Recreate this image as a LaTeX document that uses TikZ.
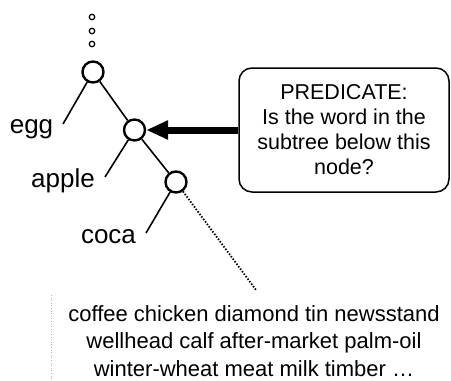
\documentclass[tikz,border=0pt]{standalone}
\usepackage{fontspec}
\setmainfont{Liberation Sans}
\usetikzlibrary{positioning,arrows.meta}

\begin{document}
\begin{tikzpicture}[
		x=1pt,
		y=-1pt,
		vertex/.style={
			draw,
			circle,
			line width=2.4pt,
			minimum size=21pt,
			inner sep=0pt
		},
		dotvertex/.style={
			draw,
			circle,
			line width=1.2pt,
			minimum size=5.5pt,
			inner sep=0pt
		},
		branch/.style={
			line width=1.6pt
		},
		trail/.style={
			line width=1.8pt,
			dash pattern=on 1.5pt off 1.6pt
		},
		leaf/.style={
			anchor=base,
			inner sep=0pt,
			font=\fontsize{26}{30}\selectfont
		},
		predicate/.style={
			draw,
			rounded corners=13pt,
			line width=1.5pt,
			align=center,
			inner sep=0pt,
			minimum width=210pt,
			minimum height=124pt,
			font=\fontsize{21.5}{25}\selectfont
		},
		wordlist/.style={
			align=center,
			inner sep=0pt,
			font=\fontsize{22}{27.5}\selectfont
		},
		>=latex
		]
		\useasboundingbox (0,0) rectangle (451,381);
		% tree
		\foreach \dy [count=\di] in {17,31,44}
			\node[dotvertex] (dot\di) at (92,\dy) {};
		\node[vertex] (top) at (93,72) {};
		\node[vertex] (mid) at (134.5,130) {};
		\node[vertex] (low) at (176,182) {};
		\coordinate (eggend) at (63,124);
		\coordinate (appleend) at (105,177);
		\coordinate (cocaend) at (146,233);
		\draw[branch] (top) -- (mid);
		\draw[branch] (mid) -- (low);
		\draw[branch] (top) -- (eggend);
		\draw[branch] (mid) -- (appleend);
		\draw[branch] (low) -- (cocaend);
		\node[leaf] (egg) at (31.5,133) {egg};
		\node[leaf] (apple) at (63,187) {apple};
		\node[leaf] (coca) at (108.5,243) {coca};
		% predicate
		\node[predicate] (pred) at (344,130) {PREDICATE:\\Is the word in the\\subtree below this\\node?};
		\draw[-{Triangle[length=22pt,width=18pt]},line width=7pt] (pred.west) -- (mid.east);
		% leaves below
		\coordinate (listtop) at (256,290);
		\draw[trail] (low) -- (listtop);
		\node[wordlist] (words) at (254,341) {coffee chicken diamond tin newsstand\\wellhead calf after-market palm-oil\\winter-wheat meat milk timber \ldots};
		\coordinate (scanA) at (51,295);
		\coordinate (scanB) at (51,381);
		\draw[gray!60,dotted,line width=0.6pt] (scanA) -- (scanB);
\end{tikzpicture}
\end{document}
